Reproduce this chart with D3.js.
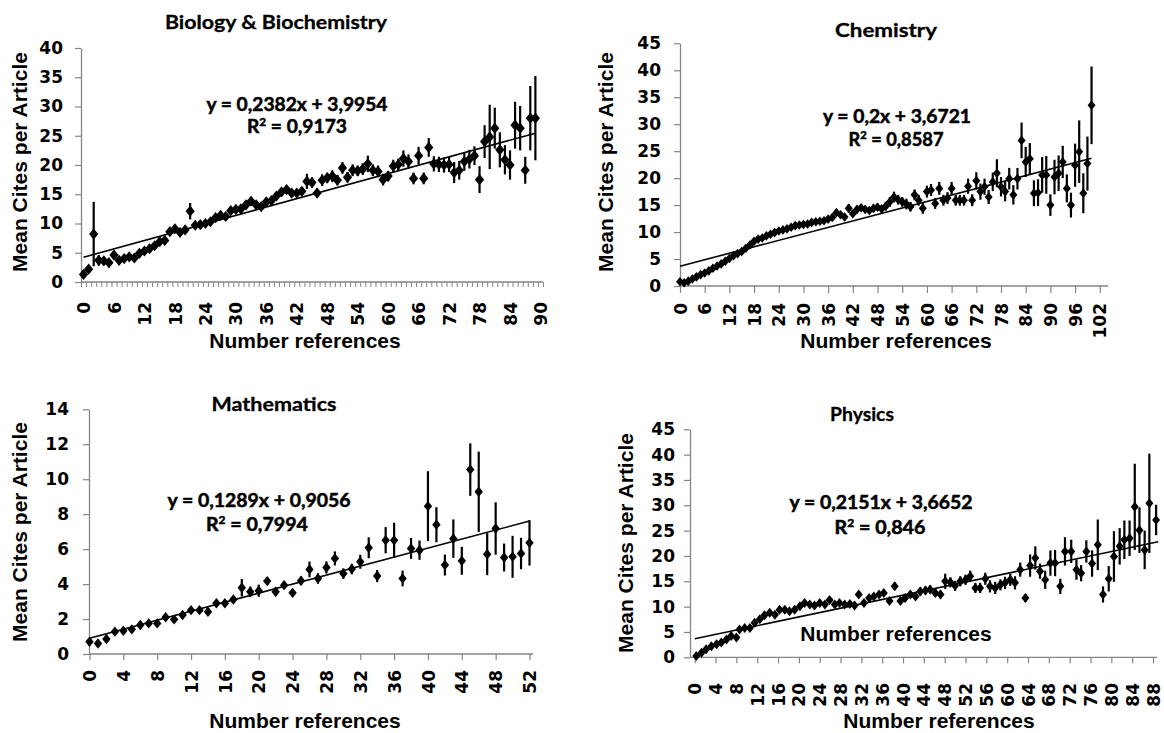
<!DOCTYPE html>
<html><head><meta charset="utf-8">
<script src="https://cdn.jsdelivr.net/npm/d3@7"></script>
<style>body{margin:0;background:#fff}</style>
</head><body>
<svg id="c" width="1164" height="733"></svg>
<script>
// ---------------- DATA ----------------
const bioTitle = "Biology & Biochemistry";
const bioEq = "y = 0,2382x + 3,9954", bioR2 = "0,9173";
const bioSlope = 0.2382, bioIntercept = 3.9954;
const bioTicksX = [0,6,12,18,24,30,36,42,48,54,60,66,72,78,84,90];
const bioTicksY = [0,5,10,15,20,25,30,35,40];
const bioX = d3.range(0, 90); // category index (0..89)
const bioVals = [1.3,2.2,8.2,3.7,3.6,3.3,4.6,3.7,4.0,4.3,
 4.1,4.9,5.3,5.7,6.2,6.9,7.1,8.6,9.1,8.5,
 8.9,12.1,9.7,9.8,10.0,10.3,11.0,11.4,11.2,12.2,
 12.4,12.5,13.2,13.8,13.2,12.9,13.7,13.9,14.7,15.4,
 15.8,15.2,15.2,15.5,17.2,17.0,15.2,17.4,17.8,18.1,
 17.4,19.5,17.9,19.1,19.0,19.3,20.2,19.1,18.9,17.5,
 18.1,19.8,20.1,21.1,20.6,17.7,21.6,17.7,23.0,20.2,
 20.1,20.0,20.1,18.7,19.1,20.6,21.0,21.6,17.5,24.0,
 24.8,26.3,22.6,20.9,20.0,26.8,26.3,19.1,28.0,28.0];
const bioErr = [0.3,0.4,5.5,0.9,0.5,0.8,0.5,0.4,0.4,0.4,
 0.4,0.4,0.4,0.4,0.4,0.4,0.4,0.4,0.5,0.4,
 0.5,1.4,0.5,0.5,0.5,0.5,0.5,0.5,0.5,0.5,
 0.6,0.6,0.6,0.6,0.6,0.6,0.6,0.6,0.7,0.7,
 0.7,0.7,0.7,0.7,1.3,0.9,0.8,1.0,0.9,1.0,
 0.9,1.0,0.9,1.0,0.9,1.0,1.4,1.0,1.0,1.0,
 0.9,1.1,1.0,1.4,1.2,1.0,1.5,1.0,1.6,1.3,
 1.3,1.3,1.3,1.8,1.6,1.6,1.6,1.6,2.3,2.8,
 5.5,3.5,3.0,2.5,2.5,4.0,3.8,2.3,5.5,7.2];

const chemTitle = "Chemistry";
const chemEq = "y = 0,2x + 3,6721", chemR2 = "0,8587";
const chemSlope = 0.2, chemIntercept = 3.6721;
const chemTicksX = [0,6,12,18,24,30,36,42,48,54,60,66,72,78,84,90,96,102];
const chemTicksY = [0,5,10,15,20,25,30,35,40,45];
const chemX = d3.range(0, 101);
const chemVals = [0.8,0.6,0.9,1.3,1.7,2.1,2.4,2.8,3.3,3.7,
 4.1,4.6,5.1,5.6,6.0,6.4,7.0,7.6,8.3,8.7,
 8.9,9.3,9.6,9.9,10.2,10.4,10.6,10.9,11.2,11.3,
 11.4,11.5,11.8,11.9,12.0,12.1,12.4,12.7,13.6,13.2,
 12.8,14.4,13.4,14.2,14.5,14.2,14.0,14.4,14.6,14.3,
 14.8,15.6,16.5,16.0,15.6,15.2,14.7,16.9,15.9,14.4,
 17.5,17.8,15.3,18.1,15.9,16.3,18.1,15.9,15.9,15.9,
 18.5,15.9,19.5,17.5,18.4,16.5,19.3,20.9,18.4,17.5,
 19.9,16.9,19.9,27.0,23.0,23.6,17.2,17.3,20.6,20.6,
 15.0,20.2,20.9,23.0,18.1,15.0,22.4,24.9,17.2,22.7,
 33.5];
const chemErr = [0.2,0.2,0.2,0.2,0.2,0.2,0.2,0.2,0.2,0.2,
 0.2,0.2,0.2,0.2,0.2,0.2,0.2,0.2,0.2,0.2,
 0.3,0.3,0.3,0.3,0.3,0.3,0.3,0.3,0.3,0.3,
 0.4,0.4,0.4,0.4,0.4,0.4,0.4,0.4,0.6,0.4,
 0.6,0.8,0.6,0.7,0.7,0.6,0.6,0.7,0.7,0.7,
 0.8,0.9,1.0,0.9,0.9,1.0,0.9,1.0,1.0,1.0,
 1.1,1.1,1.0,1.2,1.0,1.1,1.2,1.0,1.0,1.0,
 1.4,1.1,1.6,1.5,1.5,1.3,1.7,2.6,1.8,1.8,
 2.0,1.8,2.0,3.3,2.8,2.9,2.4,2.5,3.3,3.5,
 2.0,3.2,3.3,3.0,2.6,2.3,4.0,5.8,3.7,5.0,
 7.2];

const mathTitle = "Mathematics";
const mathEq = "y = 0,1289x + 0,9056", mathR2 = "0,7994";
const mathSlope = 0.1289, mathIntercept = 0.9056;
const mathTicksX = [0,4,8,12,16,20,24,28,32,36,40,44,48,52];
const mathTicksY = [0,2,4,6,8,10,12,14];
const mathX = d3.range(0, 53);
const mathVals = [0.7,0.6,0.86,1.28,1.33,1.41,1.66,1.75,1.75,2.1,
 1.98,2.23,2.51,2.51,2.42,2.9,2.9,3.12,3.79,3.56,
 3.62,4.17,3.56,3.94,3.5,4.19,4.84,4.32,4.95,5.47,
 4.6,4.86,5.28,6.08,4.46,6.51,6.51,4.32,6.04,5.94,
 8.46,7.4,5.09,6.6,5.33,10.55,9.28,5.71,7.18,5.52,
 5.56,5.75,6.36];
const mathErr = [0.1,0.1,0.1,0.1,0.1,0.1,0.1,0.1,0.1,0.15,
 0.15,0.15,0.15,0.15,0.2,0.2,0.2,0.2,0.5,0.3,
 0.35,0.2,0.25,0.2,0.2,0.25,0.45,0.3,0.35,0.4,
 0.3,0.3,0.4,0.6,0.35,0.75,1.0,0.45,0.6,0.55,
 2.0,1.0,0.6,1.1,0.8,1.5,2.3,1.2,1.5,0.8,
 1.2,0.9,1.3];

const physTitle = "Physics";
const physEq = "y = 0,2151x + 3,6652", physR2 = "0,846";
const physSlope = 0.2151, physIntercept = 3.6652;
const physTicksX = [0,4,8,12,16,20,24,28,32,36,40,44,48,52,56,60,64,68,72,76,80,84,88];
const physTicksY = [0,5,10,15,20,25,30,35,40,45];
const physX = [0.3,1.3,2.2,3.2,4.2,5.1,6.1,7.0,8.0,8.6,
 9.6,10.6,11.5,12.5,13.4,14.4,15.4,16.3,17.3,18.2,
 19.2,20.2,21.1,22.1,23.0,24.0,25.0,25.9,26.9,27.8,
 28.8,29.8,30.7,31.5,32.5,33.5,34.4,35.4,36.3,37.4,
 38.4,39.5,40.4,41.4,42.4,43.3,44.3,45.2,46.2,47.2,
 48.1,49.1,50.0,51.0,52.0,52.9,53.9,54.8,55.8,56.7,
 57.7,58.7,59.6,60.6,61.5,62.5,63.5,64.4,65.4,66.3,
 67.3,68.3,69.2,70.2,71.1,72.3,73.3,74.2,75.2,76.3,
 77.4,78.4,79.5,80.5,81.6,82.5,83.5,84.5,85.4,86.4,
 87.3,88.6];
const physVals = [0.26,0.9,1.6,2.2,2.6,2.9,3.5,4.2,3.9,5.5,
 5.8,5.8,6.8,7.5,8.3,8.8,8.4,9.4,9.4,9.1,
 9.4,10.1,10.7,10.4,10.2,10.7,10.4,11.3,10.4,10.7,
 10.4,10.5,10.2,12.4,10.7,11.7,12.0,12.4,12.7,11.1,
 14.0,11.1,11.7,12.4,12.0,13.0,13.2,13.4,12.7,12.4,
 15.0,14.8,14.1,15.0,15.3,16.0,13.7,13.7,15.5,14.0,
 13.7,14.3,14.7,15.3,14.7,17.3,11.7,18.1,19.6,17.0,
 15.3,18.6,18.6,14.0,20.9,20.9,17.3,16.6,20.9,18.5,
 22.2,12.4,15.5,19.9,21.9,23.2,23.5,29.7,25.1,21.2,
 30.4,27.1];
const physErr = [0.2,0.2,0.2,0.2,0.2,0.2,0.3,0.3,0.3,0.3,
 0.3,0.3,0.3,0.3,0.3,0.3,0.3,0.4,0.4,0.4,
 0.4,0.4,0.4,0.4,0.4,0.4,0.4,0.5,0.5,0.5,
 0.5,0.5,0.5,0.6,0.5,0.6,0.6,0.6,0.6,0.6,
 0.7,0.6,0.7,0.7,0.7,0.8,0.8,0.8,0.8,0.8,
 1.5,1.0,1.0,1.0,1.0,1.1,1.0,1.0,1.2,1.2,
 1.2,1.1,1.2,1.2,1.3,1.4,0.8,2.2,2.3,1.5,
 1.8,2.5,2.6,1.5,2.8,2.3,2.0,1.6,2.2,2.6,
 5.0,1.6,2.5,5.0,3.6,3.8,3.5,8.5,4.5,3.8,
 9.8,3.0];

const yTitle = "Mean Cites per Article";
const xTitle = "Number references";

// ---------------- LAYOUT ----------------
const svg = d3.select('#c');
const AXIS = '#858585';
const TICKFONT = "'DejaVu Sans', sans-serif";
const LABFONT = "'Liberation Sans', Arial, sans-serif";
const TITLEFONT = "Lato, 'Open Sans', sans-serif";

const panels = [
 {title: bioTitle, eq: bioEq, r2: bioR2, slope: bioSlope, intercept: bioIntercept, trendOff: 1,
  xs: bioX, vals: bioVals, errs: bioErr, ticksX: bioTicksX, ticksY: bioTicksY, yMax: 40,
  xDomain: [-0.5, 90.5], xRange: [81, 543], yRange: [282, 48], axisX: 81, lineX: [81, 543],
  minor: d3.range(-0.5, 91, 1), tickLen: 0, labelTop: 302, yLabX: 63,
  titleX: 276, titleY: 29, titleW: 222, eqX: 297, eqY: 111, eqW: 181, r2X: 297, r2Y: 133, r2W: 100,
  yTitleX: 19.5, yTitleY: 162, xTitleX: 305, xTitleY: 348, mw: 4.6, mh: 5.6},
 {title: chemTitle, eq: chemEq, r2: chemR2, slope: chemSlope, intercept: chemIntercept, trendOff: 0,
  xs: chemX, vals: chemVals, errs: chemErr, ticksX: chemTicksX, ticksY: chemTicksY, yMax: 45,
  xDomain: [0, 104], xRange: [680, 1108], yRange: [286, 43.3], axisX: 680, lineX: [680, 1108],
  minor: null, tickLen: 7, labelTop: 303, yLabX: 661,
  titleX: 886, titleY: 37, titleW: 102, eqX: 897, eqY: 123, eqW: 148, r2X: 896, r2Y: 146, r2W: 95,
  yTitleX: 605, yTitleY: 162, xTitleX: 896, xTitleY: 348, mw: 4, mh: 4.8},
 {title: mathTitle, eq: mathEq, r2: mathR2, slope: mathSlope, intercept: mathIntercept, trendOff: 0,
  xs: mathX, vals: mathVals, errs: mathErr, ticksX: mathTicksX, ticksY: mathTicksY, yMax: 14,
  xDomain: [0, 52], xRange: [89.5, 529.5], yRange: [654, 409.3], axisX: 89, lineX: [89, 533],
  minor: null, tickLen: 6, labelTop: 670, yLabX: 69,
  titleX: 274, titleY: 411, titleW: 125, eqX: 259, eqY: 507, eqW: 183, r2X: 257, r2Y: 531, r2W: 102,
  yTitleX: 19.5, yTitleY: 532, xTitleX: 305, xTitleY: 728, mw: 4.2, mh: 5.2},
 {title: physTitle, eq: physEq, r2: physR2, slope: physSlope, intercept: physIntercept, trendOff: 0,
  xs: physX, vals: physVals, errs: physErr, ticksX: physTicksX, ticksY: physTicksY, yMax: 45,
  xDomain: [0, 88], xRange: [694.7, 1153], yRange: [657.3, 429.3], axisX: 690, lineX: [690, 1157],
  minor: null, tickLen: 6, labelTop: 683, yLabX: 675,
  titleX: 862, titleY: 421, titleW: 64, eqX: 881, eqY: 509, eqW: 183, r2X: 880, r2Y: 534, r2W: 91,
  yTitleX: 625, yTitleY: 543, xTitleX: 939, xTitleY: 728, mw: 4, mh: 5,
  stray: {x: 896, y: 641}}
];

function drawPanel(p) {
  const g = svg.append('g');
  const x = d3.scaleLinear().domain(p.xDomain).range(p.xRange);
  const y = d3.scaleLinear().domain([0, p.yMax]).range(p.yRange);
  const y0 = y(0);

  // Y axis
  const ya = g.append('g').attr('transform', `translate(${p.axisX},0)`)
    .call(d3.axisLeft(y).tickValues(p.ticksY).tickSize(6).tickSizeOuter(0).tickPadding(p.axisX - p.yLabX - 6).tickFormat(d3.format('d')));
  ya.select('.domain').attr('stroke', AXIS).attr('stroke-width', 1.3);
  ya.selectAll('.tick line').attr('stroke', AXIS).attr('stroke-width', 1.2);
  ya.selectAll('.tick text').attr('font-family', TICKFONT).attr('font-weight', 'bold')
    .attr('font-size', 17).attr('fill', '#000');

  // X axis
  const xa = g.append('g').attr('transform', `translate(0,${y0})`)
    .call(d3.axisBottom(x).tickValues(p.ticksX).tickSize(p.tickLen).tickSizeOuter(0).tickFormat(d3.format('d')));
  xa.select('.domain').remove();
  xa.selectAll('.tick line').attr('stroke', AXIS).attr('stroke-width', 1.2);
  xa.selectAll('.tick text')
    .attr('font-family', TICKFONT).attr('font-weight', 'bold').attr('font-size', 17).attr('fill', '#000')
    .attr('transform', 'rotate(-90)').attr('text-anchor', 'end')
    .attr('x', -(p.labelTop - y0)).attr('y', 0).attr('dy', '0.36em');
  if (p.minor) {
    const ma = g.append('g').attr('transform', `translate(0,${y0})`)
      .call(d3.axisBottom(x).tickValues(p.minor).tickSize(5).tickSizeOuter(0).tickFormat(''));
    ma.select('.domain').remove();
    ma.selectAll('.tick line').attr('stroke', AXIS).attr('stroke-width', 1);
  }
  g.append('line').attr('x1', p.lineX[0]).attr('x2', p.lineX[1]).attr('y1', y0).attr('y2', y0)
    .attr('stroke', AXIS).attr('stroke-width', 1.3);

  // trend line
  const xs0 = d3.min(p.xs), xs1 = d3.max(p.xs);
  const tx0 = p.trendOff ? xs0 : Math.round(xs0), tx1 = p.trendOff ? xs1 : Math.round(xs1);
  g.append('line')
    .attr('x1', x(tx0)).attr('y1', y(p.slope * (tx0 + p.trendOff) + p.intercept))
    .attr('x2', x(tx1)).attr('y2', y(p.slope * (tx1 + p.trendOff) + p.intercept))
    .attr('stroke', '#000').attr('stroke-width', 1.6);

  const pts = p.xs.map((xv, i) => ({x: xv, v: p.vals[i], e: p.errs[i]}));
  g.append('g').selectAll('line').data(pts).join('line')
    .attr('x1', d => x(d.x)).attr('x2', d => x(d.x))
    .attr('y1', d => y(d.v - d.e)).attr('y2', d => y(d.v + d.e))
    .attr('stroke', '#000').attr('stroke-width', 2.2);
  const dia = `M0,${-p.mh}L${p.mw},0L0,${p.mh}L${-p.mw},0Z`;
  g.append('g').selectAll('path').data(pts).join('path')
    .attr('d', dia).attr('transform', d => `translate(${x(d.x)},${y(d.v)})`).attr('fill', '#000');

  // texts
  const bold = sel => sel.attr('font-family', TITLEFONT).attr('font-weight', 'bold')
    .attr('stroke', '#000').attr('stroke-width', 0.5).attr('fill', '#000');
  g.append('text').attr('x', p.titleX).attr('y', p.titleY).attr('text-anchor', 'middle')
    .call(bold).attr('stroke-width', 0.3).attr('font-size', 19)
    .attr('textLength', p.titleW).attr('lengthAdjust', 'spacingAndGlyphs').text(p.title);
  g.append('text').attr('x', p.eqX).attr('y', p.eqY).attr('text-anchor', 'middle')
    .call(bold).attr('font-size', 18)
    .attr('textLength', p.eqW).attr('lengthAdjust', 'spacingAndGlyphs').text(p.eq);
  const r = g.append('text').attr('x', p.r2X).attr('y', p.r2Y).attr('text-anchor', 'middle')
    .call(bold).attr('font-size', 18)
    .attr('textLength', p.r2W).attr('lengthAdjust', 'spacingAndGlyphs');
  r.append('tspan').text('R');
  r.append('tspan').attr('dy', -7).attr('font-size', 11).text('2');
  r.append('tspan').attr('dy', 7).text(' = ' + p.r2);

  g.append('text').attr('transform', `translate(${p.yTitleX},${p.yTitleY}) rotate(-90)`)
    .attr('text-anchor', 'middle').attr('dy', '0.36em')
    .attr('font-family', LABFONT).attr('font-weight', 'bold').attr('font-size', 21).text(yTitle);
  g.append('text').attr('x', p.xTitleX).attr('y', p.xTitleY).attr('text-anchor', 'middle')
    .attr('font-family', LABFONT).attr('font-weight', 'bold').attr('font-size', 21).text(xTitle);
  if (p.stray) {
    g.append('text').attr('x', p.stray.x).attr('y', p.stray.y).attr('text-anchor', 'middle')
      .attr('font-family', LABFONT).attr('font-weight', 'bold').attr('font-size', 21).text(xTitle);
  }
}
panels.forEach(drawPanel);
</script>
</body></html>
